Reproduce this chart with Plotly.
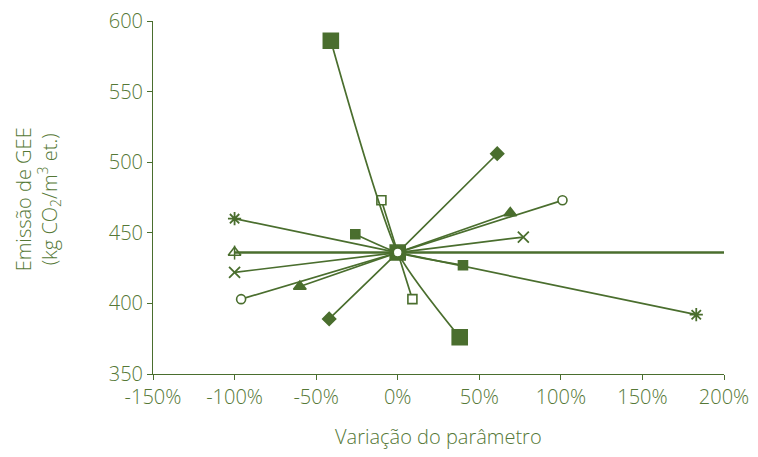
import plotly.graph_objects as go

GREEN = "#4a6e2e"
TEXT = "#557836"

# Each series: (x variation %, emission)
big_sq_x = [-41, 0, 38]
big_sq_y = [586, 436, 376]
open_sq_x = [-10, 0, 9]
open_sq_y = [473, 436, 403]
fill_sq_x = [-26, 0, 40]
fill_sq_y = [449, 436, 427]
diamond_x = [-42, 0, 61]
diamond_y = [389, 436, 506]
tri_x = [-60, 0, 69]
tri_y = [412, 436, 464]
xcross_x = [-100, 0, 77]
xcross_y = [422, 436, 447]
aster_x = [-100, 0, 183]
aster_y = [460, 436, 392]
circle_x = [-96, 0, 101]
circle_y = [403, 436, 473]
flat_x = [-100, 0, 203]
flat_y = [436, 436, 436]

x_ticks = [-150, -100, -50, 0, 50, 100, 150, 200]
x_tick_text = ["-150%", "-100%", "-50%", "0%", "50%", "100%", "150%", "200%"]
y_ticks = [350, 400, 450, 500, 550, 600]

FONT = "Open Sans, Lato, sans-serif"
FS = 20
FW = 300

fig = go.Figure()

def add(x, y, symbol, size, width=1.6, fill=GREEN, lw=1.7):
    fig.add_trace(go.Scatter(
        x=x, y=y, mode="lines+markers",
        line=dict(color=GREEN, width=lw, shape="spline", smoothing=0.6),
        marker=dict(symbol=symbol, size=size, color=fill,
                    line=dict(color=GREEN, width=width)),
        cliponaxis=False, showlegend=False, hoverinfo="x+y"))

add(flat_x, flat_y, "triangle-up-open", 11, lw=2.4)
fig.add_trace(go.Scatter(x=flat_x[:1], y=flat_y[:1], mode="markers",
                         marker=dict(symbol="line-ns-open", size=10, color=GREEN,
                                     line=dict(color=GREEN, width=1.5)),
                         showlegend=False, cliponaxis=False))
add(aster_x, aster_y, "asterisk-open", 11, width=1.8)
add(xcross_x, xcross_y, "x-thin-open", 11, width=1.8)
add(diamond_x, diamond_y, "diamond", 10)
add(tri_x, tri_y, "triangle-up", 11)
add(fill_sq_x, fill_sq_y, "square", 9)
add(open_sq_x, open_sq_y, "square", 9, fill="white")
add(big_sq_x, big_sq_y, "square", 15)
add(circle_x, circle_y, "circle", 9, fill="white")

fig.update_layout(
    width=758, height=457,
    margin=dict(l=145, r=42, t=13, b=91),
    paper_bgcolor="white", plot_bgcolor="white",
    font=dict(family=FONT, color=TEXT, size=FS, weight=FW),
    xaxis=dict(range=[-150, 200], tickvals=x_ticks, ticktext=x_tick_text,
               showgrid=False, zeroline=False, showline=True, linecolor=GREEN, linewidth=1,
               ticks="outside", ticklen=5, tickcolor=GREEN, automargin=False,
               ticklabeloverflow="allow",
               tickfont=dict(size=FS, weight=FW)),
    yaxis=dict(range=[350, 600], tickvals=y_ticks,
               showgrid=False, zeroline=False, showline=True, linecolor=GREEN, linewidth=1,
               ticks="outside", ticklen=5, tickcolor=GREEN, automargin=False,
               ticklabeloverflow="allow",
               tickfont=dict(size=FS, weight=FW)),
    annotations=[
        dict(text="Variação do parâmetro", xref="paper", yref="paper",
             x=0.5, y=-0.178, xanchor="center", yanchor="middle", showarrow=False,
             font=dict(size=FS, family=FONT, color=TEXT, weight=FW)),
        dict(text="Emissão de GEE<br>(kg CO<sub>2</sub>/m<sup>3</sup> et.)",
             xref="paper", yref="paper", x=-0.203, y=0.495, xanchor="center", yanchor="middle",
             textangle=-90, showarrow=False,
             font=dict(size=FS, family=FONT, color=TEXT, weight=FW)),
    ],
)

fig.write_html("out.html")
